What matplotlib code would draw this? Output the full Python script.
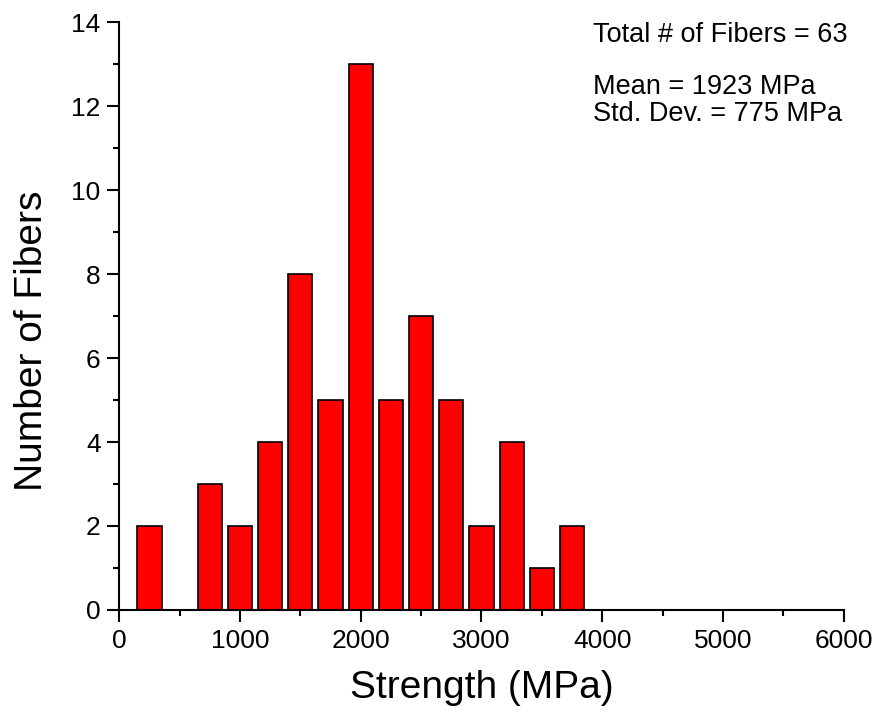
import matplotlib
matplotlib.use('Agg')
import matplotlib.pyplot as plt
from matplotlib.ticker import MultipleLocator

plt.rcParams['font.family'] = ['Liberation Sans', 'DejaVu Sans']

# bin centres (MPa) and counts
centers = [250, 500, 750, 1000, 1250, 1500, 1750, 2000, 2250, 2500,
           2750, 3000, 3250, 3500, 3750]
counts = [2, 0, 3, 2, 4, 8, 5, 13, 5, 7, 5, 2, 4, 1, 2]

total_fibers = 63
mean_mpa = 1923
std_mpa = 775

fig = plt.figure(figsize=(8.75, 7.13), dpi=100)
ax = fig.add_axes([0.1363, 0.1445, 0.8279, 0.8245])

ax.bar(centers, counts, width=200, color='#ff0000', edgecolor='black', linewidth=1.2)

ax.set_xlim(0, 6000)
ax.set_ylim(0, 14)
ax.xaxis.set_major_locator(MultipleLocator(1000))
ax.xaxis.set_minor_locator(MultipleLocator(500))
ax.yaxis.set_major_locator(MultipleLocator(2))
ax.yaxis.set_minor_locator(MultipleLocator(1))

for side in ['top', 'right']:
    ax.spines[side].set_visible(False)
for side in ['left', 'bottom']:
    ax.spines[side].set_linewidth(1.5)

ax.tick_params(which='major', direction='out', length=8.5, width=1.5, labelsize=19, pad=5)
ax.tick_params(which='minor', direction='out', length=4.5, width=1.5)

ax.set_xlabel('Strength (MPa)', fontsize=28, va='baseline')
ax.xaxis.set_label_coords(0.5, -0.1497)
ax.set_ylabel('Number of Fibers', fontsize=28, va='center')
ax.yaxis.set_label_coords(-0.121, 0.4575)

ax.text(0.654, 0.966, f'Total # of Fibers = {total_fibers}', transform=ax.transAxes,
        fontsize=19.5, va='baseline')
ax.text(0.654, 0.878, f'Mean = {mean_mpa} MPa', transform=ax.transAxes,
        fontsize=19.5, va='baseline')
ax.text(0.654, 0.832, f'Std. Dev. = {std_mpa} MPa', transform=ax.transAxes,
        fontsize=19.5, va='baseline')

fig.savefig('out.png', dpi=100)
